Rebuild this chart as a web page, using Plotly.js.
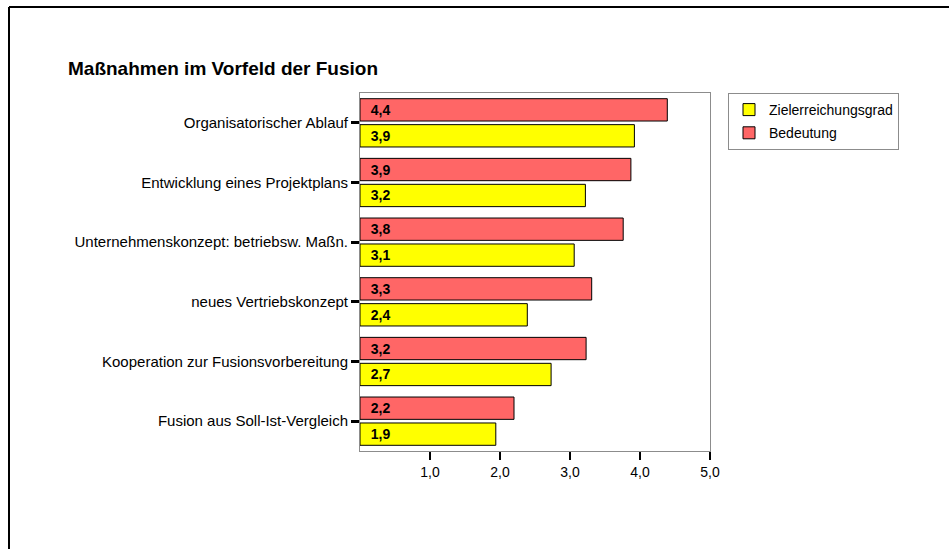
<!DOCTYPE html>
<html>
<head>
<meta charset="utf-8">
<script src="https://cdn.plot.ly/plotly-3.0.1.min.js"></script>
<style>
html,body{margin:0;padding:0;background:#fff;}
#chart{width:949px;height:549px;}
</style>
</head>
<body>
<div id="chart"></div>
<script>
// Categories, listed top to bottom as in the picture
const categories = [
  "Organisatorischer Ablauf",
  "Entwicklung eines Projektplans",
  "Unternehmenskonzept: betriebsw. Maßn.",
  "neues Vertriebskonzept",
  "Kooperation zur Fusionsvorbereitung",
  "Fusion aus Soll-Ist-Vergleich"
];
const zielerreichungsgrad = [3.92, 3.22, 3.06, 2.39, 2.73, 1.94];
const bedeutung = [4.39, 3.87, 3.76, 3.31, 3.23, 2.20];
const xTickValues = [1, 2, 3, 4, 5];

const fontFamily = "Liberation Sans, Arial, sans-serif";

// plot area in pixels: left 360, right 710, top 93, bottom 451
const L = 360, R = 710, T = 93, B = 451;
const px = v => (v - L) / (R - L);
const py = v => (B - v) / (B - T);

const common = {
  type: "bar",
  orientation: "h",
  y: categories,
  textposition: "inside",
  insidetextanchor: "start",
  texttemplate: "\u00a0\u00a0%{x:.1f}",
  textfont: {family: fontFamily, size: 14, color: "#000", weight: "bold"},
  insidetextfont: {family: fontFamily, size: 14, color: "#000", weight: "bold"},
  constraintext: "none",
  cliponaxis: false,
  hoverinfo: "skip"
};

const traces = [
  Object.assign({}, common, {
    name: "Zielerreichungsgrad",
    x: zielerreichungsgrad,
    legendgroup: "a",
    marker: {color: "#FFFF00", line: {color: "#000", width: 1}}
  }),
  Object.assign({}, common, {
    name: "Bedeutung",
    x: bedeutung,
    legendgroup: "b",
    marker: {color: "#FF6666", line: {color: "#000", width: 1}}
  })
];

const layout = {
  width: 949,
  height: 549,
  margin: {l: L, r: 949 - R, t: T, b: 549 - B, pad: 0},
  paper_bgcolor: "#fff",
  plot_bgcolor: "#fff",
  separators: ",.",
  barmode: "group",
  bargap: 0.13,
  bargroupgap: 0.14,
  font: {family: fontFamily, size: 14, color: "#000"},
  title: {
    text: "<b>Maßnahmen im Vorfeld der Fusion</b>",
    font: {family: fontFamily, size: 19, color: "#000"},
    xref: "container", yref: "container",
    x: 68 / 949, xanchor: "left",
    y: 1 - 68.5 / 549, yanchor: "middle"
  },
  xaxis: {
    range: [0, 5],
    tickvals: xTickValues,
    tickformat: ".1f",
    ticks: "outside",
    ticklen: 8,
    tickwidth: 2.5,
    tickcolor: "#000",
    showgrid: false,
    zeroline: false,
    showline: true,
    linecolor: "#8c8c8c",
    linewidth: 1,
    mirror: true,
    tickfont: {family: fontFamily, size: 14, color: "#000"},
    fixedrange: true
  },
  yaxis: {
    type: "category",
    categoryorder: "array",
    categoryarray: categories.slice().reverse(),
    ticks: "outside",
    ticklen: 8,
    tickwidth: 3,
    tickcolor: "#000",
    showgrid: false,
    zeroline: false,
    showline: true,
    linecolor: "#8c8c8c",
    linewidth: 1,
    mirror: true,
    ticklabelstandoff: 0,
    tickfont: {family: fontFamily, size: 15, color: "#000"},
    fixedrange: true
  },
  showlegend: true,
  legend: {
    x: px(728), xanchor: "left",
    y: 1, yanchor: "top",
    bgcolor: "#fff",
    bordercolor: "#8c8c8c",
    borderwidth: 1,
    traceorder: "grouped",
    tracegroupgap: 2,
    font: {family: fontFamily, size: 14, color: "#000"}
  },
  shapes: [
    {type: "line", xref: "paper", yref: "paper", x0: px(9), x1: px(949), y0: py(7), y1: py(7), line: {color: "#000", width: 2}},
    {type: "line", xref: "paper", yref: "paper", x0: px(9), x1: px(9), y0: py(7), y1: py(560), line: {color: "#000", width: 2}}
  ],
  hovermode: false
};

Plotly.newPlot("chart", traces, layout, {displayModeBar: false, staticPlot: true});
</script>
</body>
</html>
